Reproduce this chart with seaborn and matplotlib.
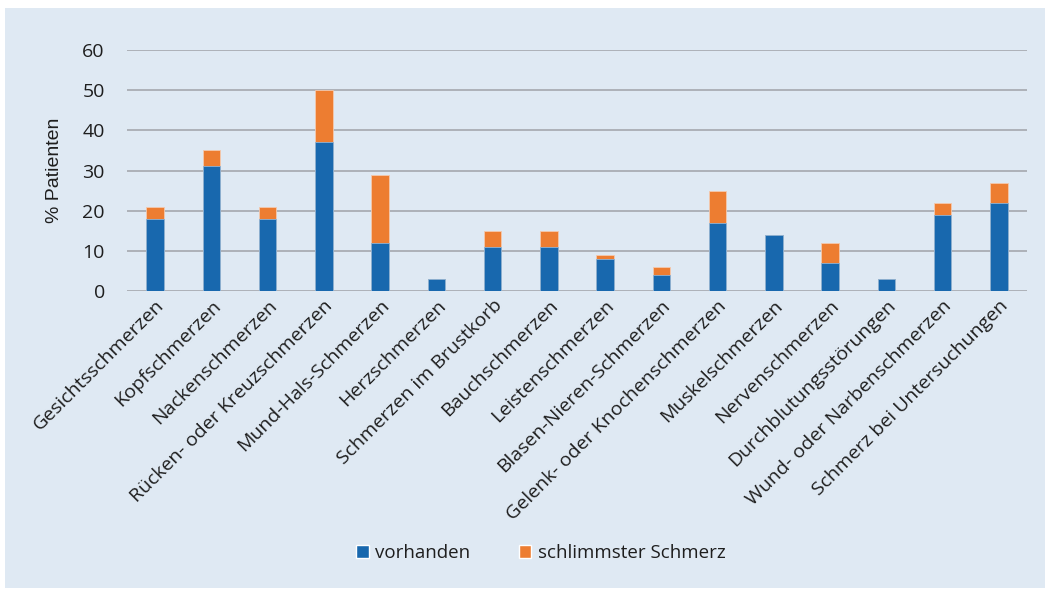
import matplotlib
matplotlib.use("Agg")
import matplotlib.pyplot as plt
import seaborn as sns
import pandas as pd
from matplotlib.patches import Rectangle, Patch

categories = ["Gesichtsschmerzen", "Kopfschmerzen", "Nackenschmerzen",
              "Rücken- oder Kreuzschmerzen", "Mund-Hals-Schmerzen", "Herzschmerzen",
              "Schmerzen im Brustkorb", "Bauchschmerzen", "Leistenschmerzen",
              "Blasen-Nieren-Schmerzen", "Gelenk- oder Knochenschmerzen", "Muskelschmerzen",
              "Nervenschmerzen", "Durchblutungsstörungen", "Wund- oder Narbenschmerzen",
              "Schmerz bei Untersuchungen"]
vorhanden = [18, 31, 18, 37, 12, 3, 11, 11, 8, 4, 17, 14, 7, 3, 19, 22]
schlimmster = [3, 4, 3, 13, 17, 0, 4, 4, 1, 2, 8, 0, 5, 0, 3, 5]
yticks = [0, 10, 20, 30, 40, 50, 60]

df = pd.DataFrame({"cat": categories, "vorhanden": vorhanden,
                   "total": [a + b for a, b in zip(vorhanden, schlimmster)]})

blue = "#1868AE"
orange = "#ED7D31"
bg = "#DFE9F3"
txt = "#1E1E1E"

sns.set_theme(style="white")
plt.rcParams['font.family'] = ['Open Sans', 'DejaVu Sans']

fig = plt.figure(figsize=(10.5, 5.9), dpi=100)
fig.patch.set_facecolor("white")
fig.patches.append(Rectangle((5/1050, 2/590), 1040/1050, 580/590, transform=fig.transFigure,
                             facecolor=bg, edgecolor="none", zorder=-10))
ax = fig.add_axes([127/1050, 1 - 291/590, 900/1050, 241/590])
ax.set_facecolor("none")

sns.barplot(data=df, x="cat", y="total", color=orange, saturation=1, width=0.31,
            ax=ax, edgecolor="#F4C9AE", linewidth=0.6, zorder=3)
sns.barplot(data=df, x="cat", y="vorhanden", color=blue, saturation=1, width=0.31,
            ax=ax, edgecolor="#8DB3D6", linewidth=0.6, zorder=4)

ax.set_ylim(0, 60)
ax.set_yticks(yticks)
ax.set_yticklabels([str(t) for t in yticks], fontsize=14, color=txt)
ax.yaxis.grid(True, color="#A9ADB3", linewidth=1.3, zorder=0)
ax.set_axisbelow(True)
for s in ax.spines.values():
    s.set_visible(False)
ax.tick_params(axis="y", length=0, pad=16)
ax.tick_params(axis="x", length=0, pad=4)
ax.set_xticks(range(len(categories)))
ax.set_xticklabels(categories, rotation=45, ha="right", rotation_mode="anchor",
                   fontsize=14, color=txt)
ax.set_xlim(-0.5, len(categories) - 0.5)
ax.set_xlabel("")
ax.set_ylabel("% Patienten", fontsize=14, color=txt, labelpad=14,
              family=["Liberation Sans", "DejaVu Sans"])

handles = [Patch(facecolor=blue, label="vorhanden"),
           Patch(facecolor=orange, label="schlimmster Schmerz")]
fig.legend(handles=handles, loc="center", bbox_to_anchor=(541/1050, 1 - 553/590), ncol=2,
           frameon=False, fontsize=13.5, handlelength=0.65, handleheight=0.75,
           handletextpad=0.35, columnspacing=2.6, labelcolor=txt)

fig.savefig("out.png", dpi=100)
